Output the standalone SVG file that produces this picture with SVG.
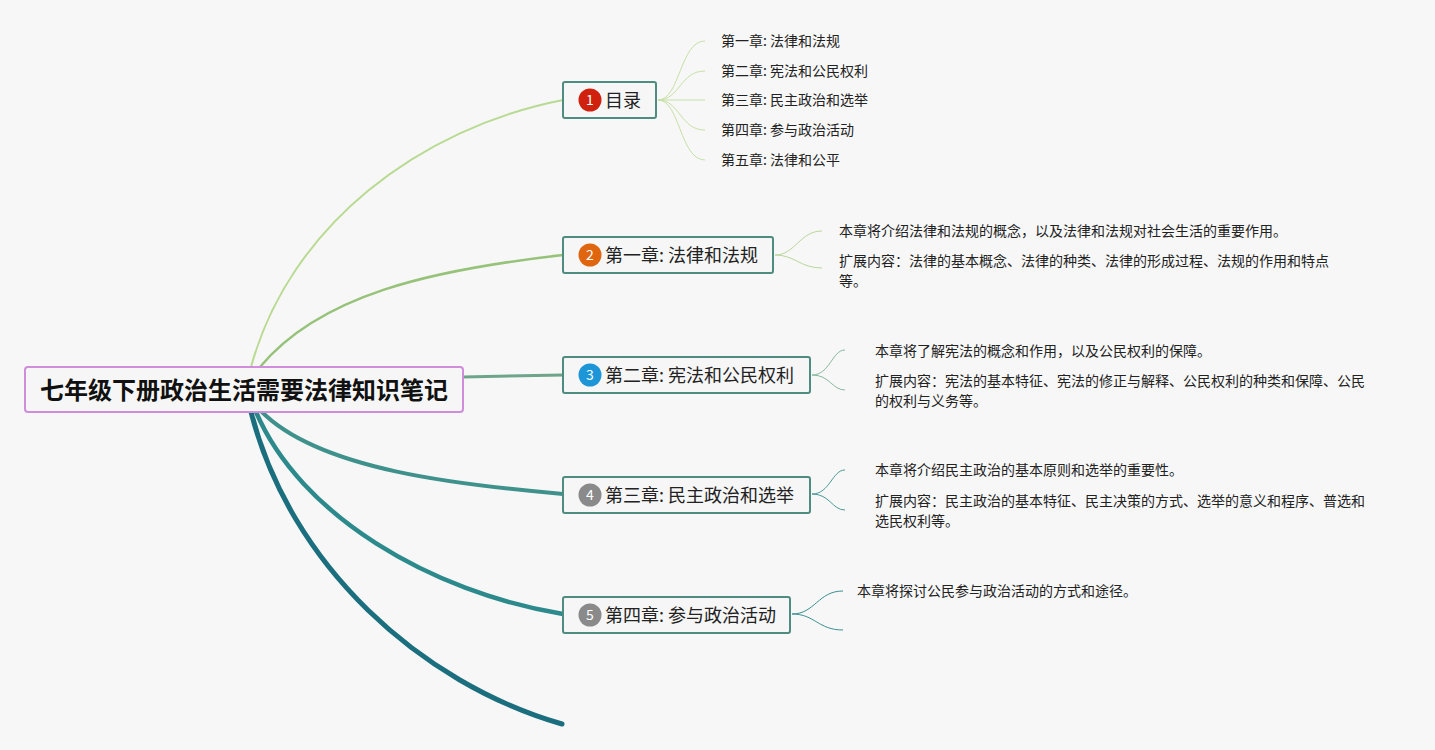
<svg xmlns="http://www.w3.org/2000/svg" width="1435" height="750" viewBox="0 0 1435 750">
<style>
text{font-family:"Noto Sans CJK SC","Liberation Sans",sans-serif;fill:#222}
.box{fill:#f6f6f6;stroke:#4f8c80;stroke-width:2}
.lbl{font-size:18px}
.sm{font-size:14px}
.num{font-size:14px;fill:#fff;text-anchor:middle}
.c{fill:none;stroke-linecap:round}
</style>
<rect width="1435" height="750" fill="#f7f7f7"/>
<g id="connectors">
<path class="c" d="M251,367 C290,225 420,128 563,100" stroke="#b8da92" stroke-width="2"/>
<path class="c" d="M260,367 C320,295 430,270 563,255" stroke="#97c27a" stroke-width="2.5"/>
<path class="c" d="M463,377 L563,375" stroke="#6ea58a" stroke-width="3"/>
<path class="c" d="M262,412 C320,470 460,485 563,494" stroke="#3f918c" stroke-width="4"/>
<path class="c" d="M256,412 C300,515 430,592 563,614" stroke="#2c8a8c" stroke-width="4.5"/>
<path class="c" d="M251,412 C290,565 420,683 562,724" stroke="#1b6e7e" stroke-width="5"/>
<g stroke="#c6e0a6" stroke-width="1" fill="none">
<path d="M658,100 C680,100 680,41 705,41"/>
<path d="M658,100 C680,100 680,71 705,71"/>
<path d="M658,100 L705,100"/>
<path d="M658,100 C680,100 680,130 705,130"/>
<path d="M658,100 C680,100 680,160 705,160"/>
</g>
<g stroke="#b8d69a" stroke-width="1" fill="none">
<path d="M775,255 C795,255 800,231 822,231"/>
<path d="M775,255 C795,255 800,268 822,268"/>
</g>
<g stroke="#87b8a0" stroke-width="1" fill="none">
<path d="M812,375 C830,375 832,350 845,350"/>
<path d="M812,375 C830,375 832,390 845,390"/>
</g>
<g stroke="#4a9a95" stroke-width="1" fill="none">
<path d="M812,494 C830,494 832,470 845,470"/>
<path d="M812,494 C830,494 832,510 845,510"/>
</g>
<g stroke="#3a9090" stroke-width="1" fill="none">
<path d="M792,614 C815,614 818,591 843,591"/>
<path d="M792,614 C815,614 818,630 843,630"/>
</g>
</g>
<g id="root">
<rect x="25" y="367" width="438" height="45" rx="3" fill="#f6f6f6" stroke="#cf8ddc" stroke-width="2"/>
<text x="244" y="399" font-size="24" font-weight="bold" text-anchor="middle" style="fill:#111">七年级下册政治生活需要法律知识笔记</text>
</g>
<g id="n1">
<rect class="box" x="563" y="82" width="93" height="36" rx="2"/>
<circle cx="590" cy="100" r="11.5" fill="#d0210f"/>
<text class="num" x="590" y="105">1</text>
<text class="lbl" x="605" y="107">目录</text>
</g>
<g id="n1-items">
<text class="sm" x="721" y="46">第一章: 法律和法规</text>
<text class="sm" x="721" y="76">第二章: 宪法和公民权利</text>
<text class="sm" x="721" y="105">第三章: 民主政治和选举</text>
<text class="sm" x="721" y="135">第四章: 参与政治活动</text>
<text class="sm" x="721" y="165">第五章: 法律和公平</text>
</g>
<g id="n2">
<rect class="box" x="563" y="237" width="210" height="36" rx="2"/>
<circle cx="590" cy="255" r="11.5" fill="#e0650f"/>
<text class="num" x="590" y="260">2</text>
<text class="lbl" x="605" y="262">第一章: 法律和法规</text>
</g>
<g id="n2-details">
<text class="sm" x="839" y="236">本章将介绍法律和法规的概念，以及法律和法规对社会生活的重要作用。</text>
<text class="sm" x="839" y="266">扩展内容：法律的基本概念、法律的种类、法律的形成过程、法规的作用和特点</text>
<text class="sm" x="839" y="286">等。</text>
</g>
<g id="n3">
<rect class="box" x="563" y="357" width="247" height="36" rx="2"/>
<circle cx="590" cy="375" r="11.5" fill="#1d96d8"/>
<text class="num" x="590" y="380">3</text>
<text class="lbl" x="605" y="382">第二章: 宪法和公民权利</text>
</g>
<g id="n3-details">
<text class="sm" x="875" y="356">本章将了解宪法的概念和作用，以及公民权利的保障。</text>
<text class="sm" x="875" y="386">扩展内容：宪法的基本特征、宪法的修正与解释、公民权利的种类和保障、公民</text>
<text class="sm" x="875" y="406">的权利与义务等。</text>
</g>
<g id="n4">
<rect class="box" x="563" y="477" width="247" height="36" rx="2"/>
<circle cx="590" cy="495" r="11.5" fill="#8a8a8a"/>
<text class="num" x="590" y="500">4</text>
<text class="lbl" x="605" y="502">第三章: 民主政治和选举</text>
</g>
<g id="n4-details">
<text class="sm" x="875" y="475">本章将介绍民主政治的基本原则和选举的重要性。</text>
<text class="sm" x="875" y="506">扩展内容：民主政治的基本特征、民主决策的方式、选举的意义和程序、普选和</text>
<text class="sm" x="875" y="526">选民权利等。</text>
</g>
<g id="n5">
<rect class="box" x="563" y="597" width="227" height="36" rx="2"/>
<circle cx="590" cy="615" r="11.5" fill="#8a8a8a"/>
<text class="num" x="590" y="620">5</text>
<text class="lbl" x="605" y="622">第四章: 参与政治活动</text>
</g>
<g id="n5-details">
<text class="sm" x="857" y="596">本章将探讨公民参与政治活动的方式和途径。</text>
</g>
</svg>
